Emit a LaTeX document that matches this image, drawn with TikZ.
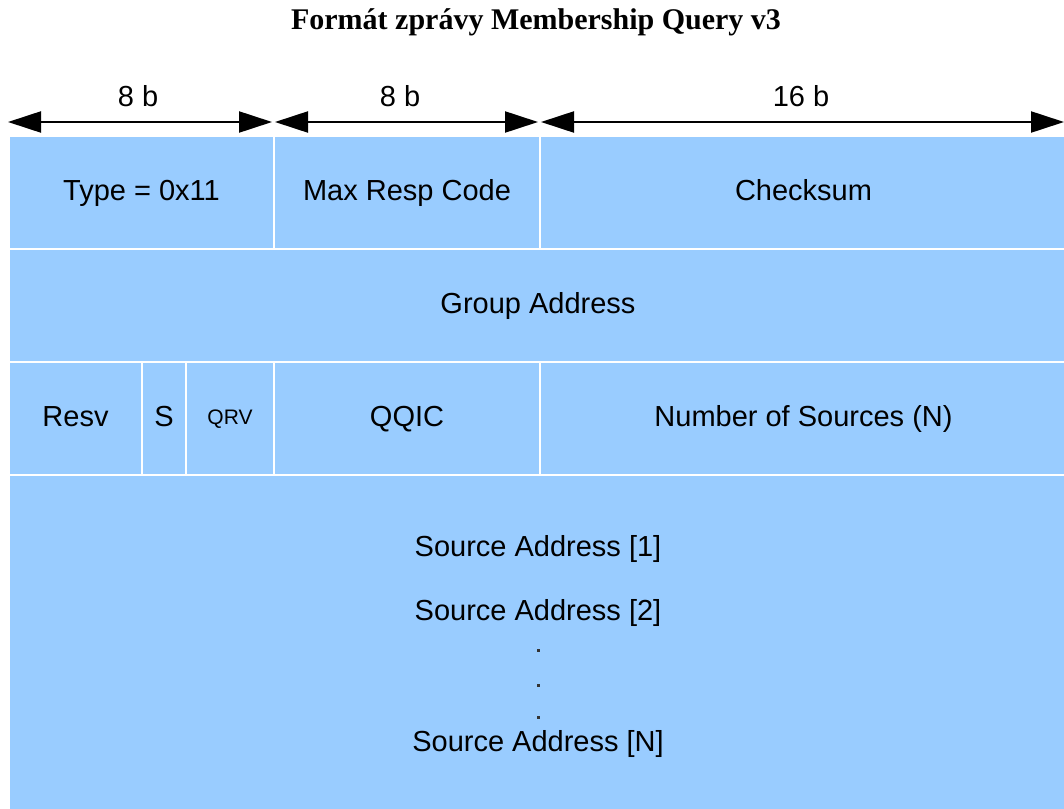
\documentclass[tikz,border=0pt]{standalone}
\usepackage{fontspec}
\setmainfont{Liberation Sans}
\newfontfamily\titlefont{Liberation Serif}
\usetikzlibrary{arrows.meta}
\definecolor{cellblue}{RGB}{153,204,255}
\tikzset{
  cell/.style={fill=cellblue, draw=white, line width=2pt, anchor=north west, inner sep=0pt,
    font=\fontsize{29}{34}\selectfont, text=black, text height=19pt, text depth=3pt},
  dimline/.style={line width=2.2pt, {Triangle[length=33pt,width=21pt]}-{Triangle[length=33pt,width=21pt]}},
  dimlabel/.style={font=\fontsize{29}{34}\selectfont, inner sep=0pt, text height=21pt, text depth=0pt},
  dotmark/.style={fill=black!80, minimum size=3pt, inner sep=0pt},
  plaintext/.style={font=\fontsize{29}{34}\selectfont, inner sep=0pt, text height=21pt, text depth=0pt}
}
\begin{document}
\begin{tikzpicture}[x=1pt,y=-1pt]
\useasboundingbox (0,0) rectangle (1064,808);
% title
\node[font=\titlefont\bfseries\fontsize{30}{36}\selectfont, inner sep=0pt] (title) at (536,22) {Formát zprávy Membership Query v3};
% dimension arrows
\coordinate (d1a) at (8,122); \coordinate (d1b) at (272,122);
\coordinate (d2a) at (275,122); \coordinate (d2b) at (538,122);
\coordinate (d3a) at (541,122); \coordinate (d3b) at (1064,122);
\draw[dimline] (d1a) -- (d1b);
\draw[dimline] (d2a) -- (d2b);
\draw[dimline] (d3a) -- (d3b);
\node[dimlabel] (l1) at (138,96) {8 b};
\node[dimlabel] (l2) at (400,96) {8 b};
\node[dimlabel] (l3) at (801,96) {16 b};
% row 1
\node[cell, minimum width=265pt, minimum height=113pt] (type) at (8,135) {Type = 0x11};
\node[cell, minimum width=266pt, minimum height=113pt] (mrc) at (273,135) {Max Resp Code};
\node[cell, minimum width=527pt, minimum height=113pt] (chk) at (539,135) {Checksum};
% row 2
\node[cell, minimum width=1058pt, minimum height=113pt] (grp) at (8,248) {Group Address};
% row 3
\node[cell, minimum width=133pt, minimum height=113pt] (resv) at (8,361) {Resv};
\node[cell, minimum width=44pt, minimum height=113pt] (s) at (141,361) {S};
\node[cell, minimum width=88pt, minimum height=113pt, font=\fontsize{21}{24}\selectfont, text height=14pt, text depth=2pt] (qrv) at (185,361) {QRV};
\node[cell, minimum width=266pt, minimum height=113pt] (qqic) at (273,361) {QQIC};
\node[cell, minimum width=527pt, minimum height=113pt] (nsrc) at (539,361) {Number of Sources (N)};
% row 4
\node[cell, minimum width=1058pt, minimum height=336pt] (src) at (8,474) {};
\node[plaintext] (s1) at (538,546) {Source Address [1]};
\node[plaintext] (s2) at (538,610) {Source Address [2]};
\node[dotmark] (p1) at (538,650) {};
\node[dotmark] (p2) at (538,685) {};
\node[dotmark] (p3) at (538,717) {};
\node[plaintext] (sn) at (538,741) {Source Address [N]};
\end{tikzpicture}
\end{document}
